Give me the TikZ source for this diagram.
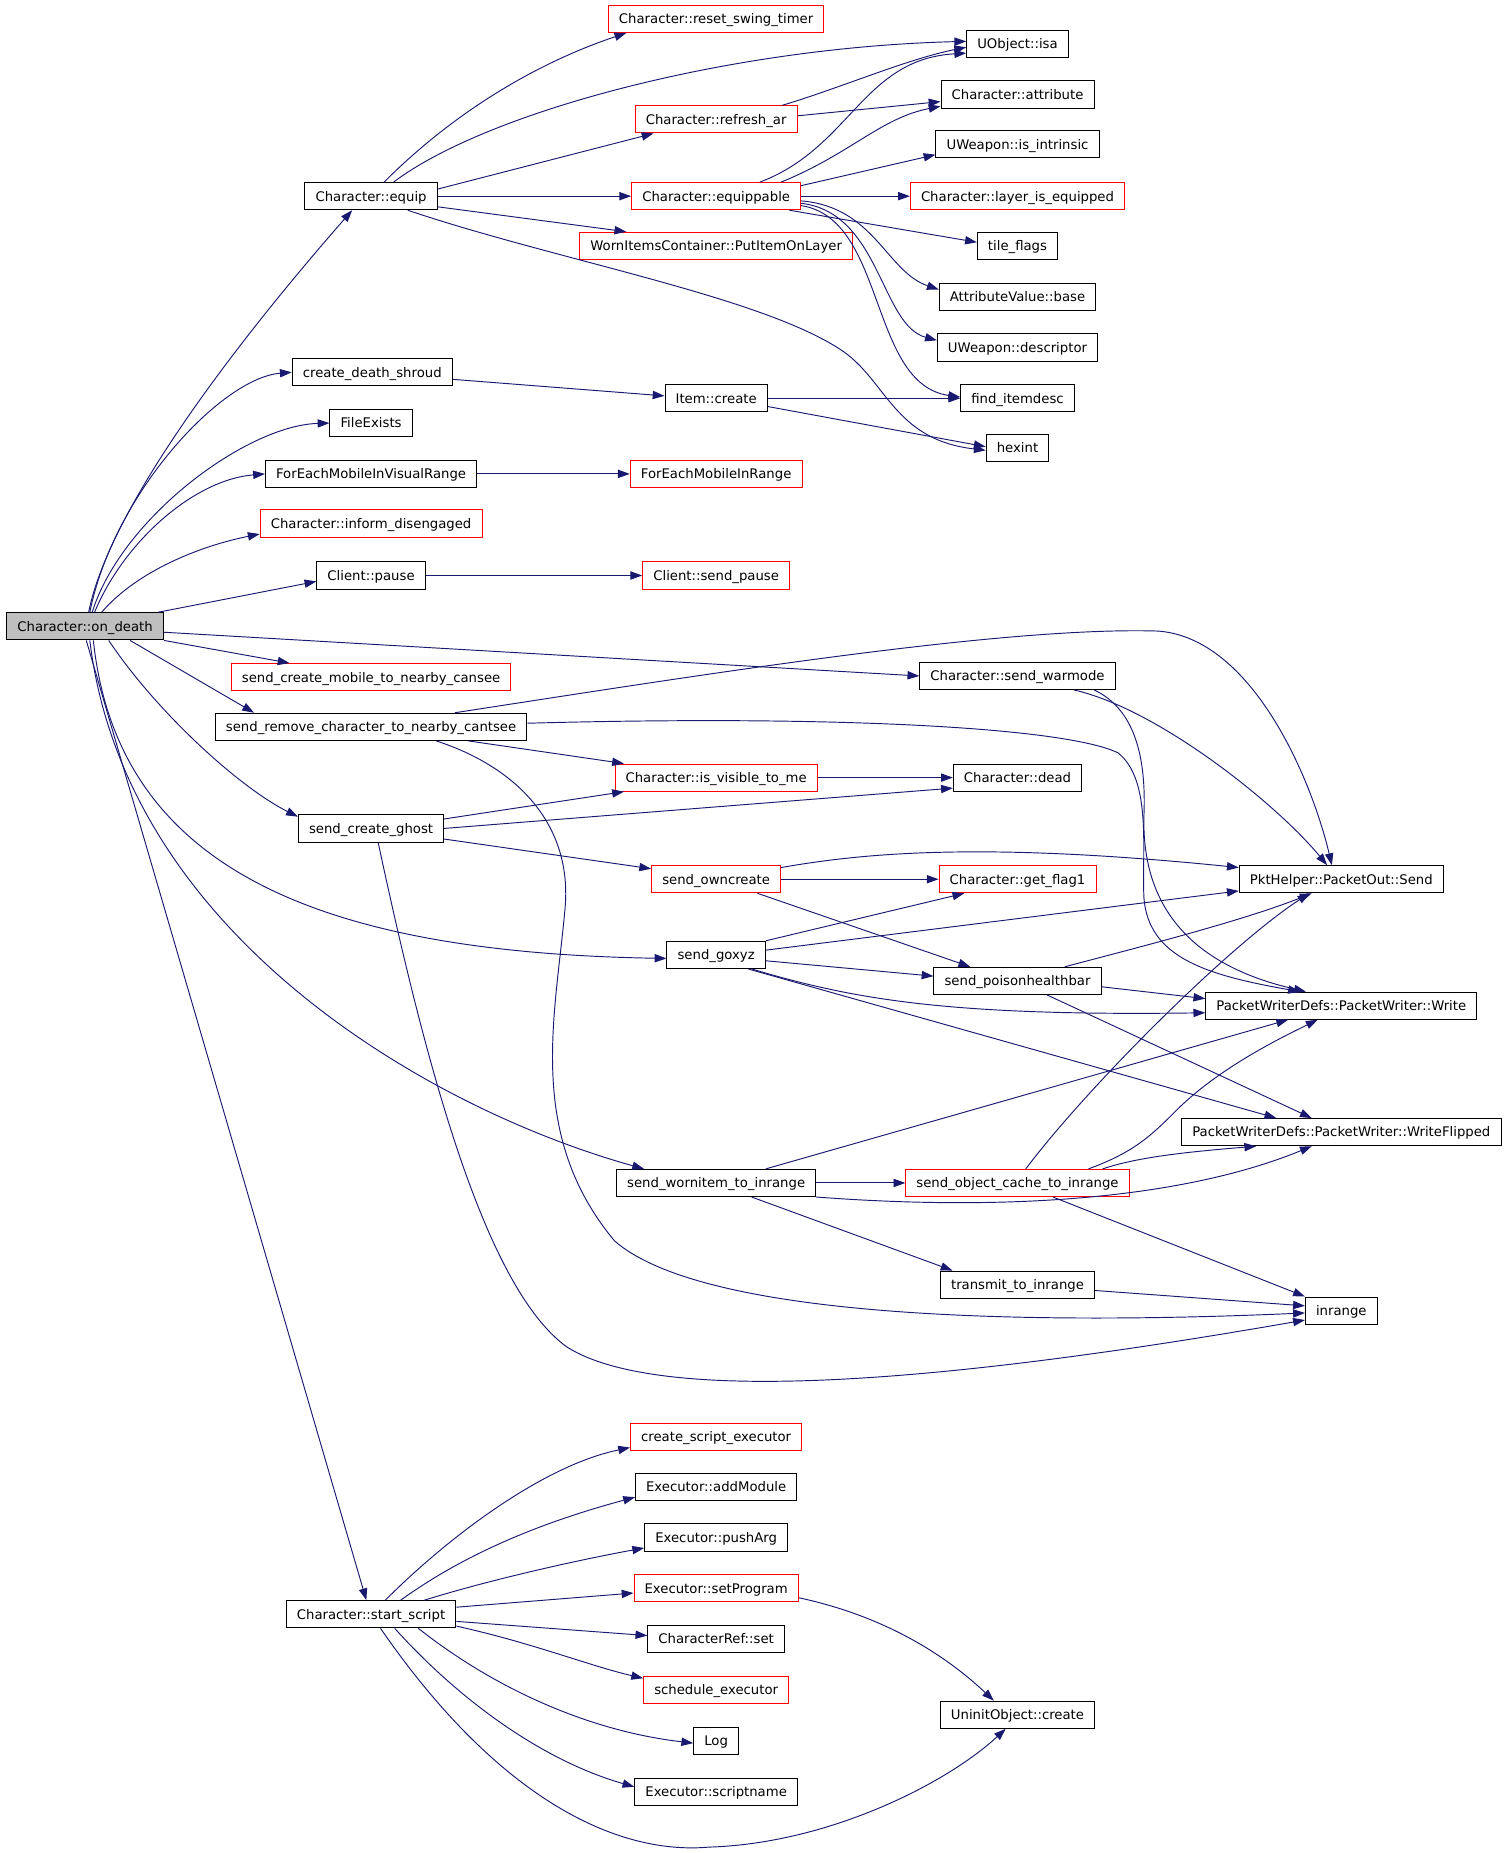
\documentclass[tikz,border=0pt]{standalone}
\usepackage{fontspec}
\newfontfamily\dejavu{DejaVu Sans}
\usetikzlibrary{arrows.meta}
\definecolor{edgeblue}{HTML}{191970}
\definecolor{rootgray}{HTML}{BFBFBF}
\tikzset{
  fn/.style = {draw = black, line width = 0.8pt, minimum height = 23pt,
    inner xsep = 9pt, inner ysep = 0pt, text height = 8.2pt, text depth = 0pt,
    font = \dejavu\fontsize{11.2}{13}\selectfont},
  fnred/.style = {fn, draw = red},
  fnroot/.style = {fn, fill = rootgray},
  call/.style = {edgeblue, line width = 0.8pt,
    -{Triangle[length = 10pt, width = 7pt]}},
}
\begin{document}
\begin{tikzpicture}[x = 1pt, y = -1pt]
  \useasboundingbox (0, 0) rectangle (1279, 1568);
  % first column
  \node [fnroot] (ondeath) at (72, 530) {Character::on\_death};
  % second column
  \node [fn]    (equip)       at (314, 166)  {Character::equip};
  \node [fn]    (shroud)      at (315, 315)  {create\_death\_shroud};
  \node [fn]    (fileexists)  at (314, 358)  {FileExists};
  \node [fn]    (foreachvis)  at (314, 401)  {ForEachMobileInVisualRange};
  \node [fnred] (informdis)   at (314, 443)  {Character::inform\_disengaged};
  \node [fn]    (pause)       at (314, 487)  {Client::pause};
  \node [fnred] (createmob)   at (314, 573)  {send\_create\_mobile\_to\_nearby\_cansee};
  \node [fn]    (removechar)  at (314, 615)  {send\_remove\_character\_to\_nearby\_cantsee};
  \node [fn]    (createghost) at (314, 701)  {send\_create\_ghost};
  \node [fn]    (startscript) at (314, 1366) {Character::start\_script};
  % third column
  \node [fnred] (swingtimer)   at (606, 16)   {Character::reset\_swing\_timer};
  \node [fnred] (refreshar)    at (606, 101)  {Character::refresh\_ar};
  \node [fnred] (equippable)   at (606, 166)  {Character::equippable};
  \node [fnred] (putitem)      at (606, 208)  {WornItemsContainer::PutItemOnLayer};
  \node [fn]    (itemcreate)   at (606, 337)  {Item::create};
  \node [fnred] (foreachrange) at (606, 401)  {ForEachMobileInRange};
  \node [fnred] (sendpause)    at (606, 487)  {Client::send\_pause};
  \node [fnred] (isvisible)    at (606, 658)  {Character::is\_visible\_to\_me};
  \node [fnred] (owncreate)    at (606, 744)  {send\_owncreate};
  \node [fn]    (goxyz)        at (606, 808)  {send\_goxyz};
  \node [fn]    (wornitem)     at (606, 1001) {send\_wornitem\_to\_inrange};
  \node [fnred] (scriptexec)   at (606, 1216) {create\_script\_executor};
  \node [fn]    (addmodule)    at (606, 1258) {Executor::addModule};
  \node [fn]    (pusharg)      at (606, 1301) {Executor::pushArg};
  \node [fnred] (setprogram)   at (606, 1344) {Executor::setProgram};
  \node [fn]    (charrefset)   at (606, 1387) {CharacterRef::set};
  \node [fnred] (schedule)     at (606, 1430) {schedule\_executor};
  \node [fn]    (logfn)        at (606, 1473) {Log};
  \node [fn]    (scriptname)   at (606, 1516) {Executor::scriptname};
  % fourth column
  \node [fn]    (isa)        at (861, 37)   {UObject::isa};
  \node [fn]    (attribute)  at (861, 80)   {Character::attribute};
  \node [fn]    (intrinsic)  at (861, 122)  {UWeapon::is\_intrinsic};
  \node [fnred] (layereq)    at (861, 166)  {Character::layer\_is\_equipped};
  \node [fn]    (tileflags)  at (861, 208)  {tile\_flags};
  \node [fn]    (attrbase)   at (861, 251)  {AttributeValue::base};
  \node [fn]    (descriptor) at (861, 294)  {UWeapon::descriptor};
  \node [fn]    (finditem)   at (861, 337)  {find\_itemdesc};
  \node [fn]    (hexint)     at (861, 379)  {hexint};
  \node [fn]    (warmode)    at (861, 572)  {Character::send\_warmode};
  \node [fn]    (dead)       at (861, 658)  {Character::dead};
  \node [fnred] (getflag)    at (861, 744)  {Character::get\_flag1};
  \node [fn]    (poison)     at (861, 830)  {send\_poisonhealthbar};
  \node [fnred] (objcache)   at (861, 1001) {send\_object\_cache\_to\_inrange};
  \node [fn]    (transmit)   at (861, 1087) {transmit\_to\_inrange};
  \node [fn]    (uninit)     at (861, 1451) {UninitObject::create};
  % fifth column
  \node [fn] (pktsend) at (1135, 744)  {PktHelper::PacketOut::Send};
  \node [fn] (pwwrite) at (1135, 851)  {PacketWriterDefs::PacketWriter::Write};
  \node [fn] (pwflip)  at (1135, 958)  {PacketWriterDefs::PacketWriter::WriteFlipped};
  \node [fn] (inrange) at (1135, 1109) {inrange};

  % calls of Character::on_death
  \draw [call] ([xshift=3pt]ondeath.north) .. controls +(20, -100) and +(-70, 80) .. ([xshift=-16pt]equip.south);
  \draw [call] ([xshift=4pt]ondeath.north) .. controls +(20, -100) and +(-60, 5) .. (shroud.west);
  \draw [call] ([xshift=6pt]ondeath.north) .. controls +(25, -80) and +(-70, 2) .. (fileexists.west);
  \draw [call] ([xshift=8pt]ondeath.north) .. controls +(25, -60) and +(-60, 5) .. (foreachvis.west);
  \draw [call] ([xshift=14pt]ondeath.north) .. controls +(30, -35) and +(-50, 10) .. ([yshift=3pt]informdis.south west);
  \draw [call] ([xshift=-5pt]ondeath.north east) -- ([yshift=-5pt]pause.west);
  \draw [call] (ondeath.south east) -- ([xshift=-69pt]createmob.north);
  \draw [call] ([yshift=-5pt]ondeath.east) -- (warmode.west);
  \draw [call] ([xshift=38pt]ondeath.south) -- ([xshift=-99pt]removechar.north);
  \draw [call] ([xshift=20pt]ondeath.south) .. controls +(40, 60) and +(-50, -25) .. ([yshift=-2pt]createghost.north west);
  \draw [call] ([xshift=7pt]ondeath.south) .. controls +(20, 190) and +(-300, -5) .. ([yshift=-3pt]goxyz.west);
  \draw [call] ([xshift=4pt]ondeath.south) .. controls +(30, 250) and +(-180, -50) .. ([xshift=-61pt]wornitem.north);
  \draw [call] ([xshift=1pt]ondeath.south) -- ([xshift=-4pt]startscript.north);

  % Character::equip and below
  \draw [call] ([xshift=11pt]equip.north) .. controls +(70, -70) and +(-60, 20) .. ([xshift=-76pt]swingtimer.south);
  \draw [call] ([xshift=19pt]equip.north) .. controls +(80, -60) and +(-200, 5) .. ([yshift=2pt]isa.west);
  \draw [call] ([yshift=6pt]equip.east) -- ([xshift=-53pt]refreshar.south);
  \draw [call] (equip.east) -- (equippable.west);
  \draw [call] ([yshift=-9pt]equip.east) -- ([xshift=-76pt]putitem.north);
  \draw [call] ([xshift=31pt]equip.south) .. controls (470, 220) and (640, 250) .. (710, 295)%
    .. controls (750, 320) and (755, 372) .. ([yshift=-2pt]hexint.west);
  \draw [call] ([xshift=56pt]refreshar.north) .. controls +(50, -15) and +(-50, 10) .. ([yshift=-3pt]isa.west);
  \draw [call] ([yshift=3pt]refreshar.east) -- ([yshift=-6pt]attribute.west);
  \draw [call] ([xshift=37pt]equippable.north) .. controls (720, 125) and (730, 50) .. ([yshift=-8pt]isa.west);
  \draw [call] ([xshift=55pt]equippable.north) .. controls (720, 130) and (745, 100) .. ([yshift=2pt]attribute.south west);
  \draw [call] ([yshift=-3pt]equippable.north east) -- ([yshift=3pt]intrinsic.south west);
  \draw [call] (equippable.east) -- (layereq.west);
  \draw [call] ([xshift=-10pt]equippable.south east) -- ([yshift=3pt]tileflags.west);
  \draw [call] ([yshift=-4pt]equippable.east) .. controls (740, 175) and (750, 230) .. ([yshift=6pt]attrbase.west);
  \draw [call] ([yshift=-6pt]equippable.east) .. controls (745, 180) and (745, 275) .. ([yshift=6pt]descriptor.west);
  \draw [call] ([yshift=-8pt]equippable.east) .. controls (750, 185) and (735, 325) .. ([yshift=1pt]finditem.west);
  \draw [call] ([yshift=-6pt]shroud.east) -- ([yshift=2pt]itemcreate.west);
  \draw [call] (itemcreate.east) -- (finditem.west);
  \draw [call] ([yshift=-7pt]itemcreate.east) -- ([yshift=1pt]hexint.west);
  \draw [call] (foreachvis.east) -- (foreachrange.west);
  \draw [call] (pause.east) -- (sendpause.west);

  % packet senders
  \draw [call] ([xshift=71pt]removechar.north) .. controls (600, 570) and (850, 530) .. (980, 534)%
    .. controls (1060, 540) and (1110, 660) .. ([xshift=-8pt]pktsend.north);
  \draw [call] ([yshift=3pt]removechar.east) .. controls (700, 605) and (900, 615) .. (946, 637)%
    .. controls (975, 660) and (966, 720) .. (968, 760)%
    .. controls (972, 810) and (1020, 825) .. ([xshift=-35pt]pwwrite.north);
  \draw [call] ([xshift=82pt]removechar.south) -- ([xshift=-78pt]isvisible.north);
  \draw [call] ([xshift=55pt]removechar.south) .. controls (440, 650) and (485, 700) .. (478, 770)%
    .. controls (470, 860) and (445, 960) .. (520, 1050)%
    .. controls (600, 1120) and (900, 1120) .. ([yshift=-2pt]inrange.west);
  \draw [call] ([xshift=48pt]warmode.south) .. controls (980, 600) and (1080, 680) .. ([xshift=-12pt]pktsend.north);
  \draw [call] ([xshift=65pt]warmode.south) .. controls (960, 600) and (970, 640) .. (968, 690)%
    .. controls (966, 760) and (1000, 815) .. ([xshift=-30pt]pwwrite.north);
  \draw [call] ([yshift=8pt]createghost.east) -- ([xshift=-78pt]isvisible.south);
  \draw [call] (createghost.east) -- ([yshift=3pt]dead.south west);
  \draw [call] ([yshift=-9pt]createghost.east) -- ([yshift=-3pt]owncreate.north west);
  \draw [call] ([xshift=6pt]createghost.south) .. controls (360, 900) and (410, 1090) .. (480, 1140)%
    .. controls (560, 1190) and (800, 1170) .. ([yshift=-8pt]inrange.west);
  \draw [call] (isvisible.east) -- (dead.west);
  \draw [call] ([yshift=-2pt]owncreate.north east) .. controls (730, 722) and (830, 712) .. ([yshift=-2pt]pktsend.north west);
  \draw [call] (owncreate.east) -- (getflag.west);
  \draw [call] ([xshift=35pt]owncreate.south) -- ([xshift=-40pt]poison.north);
  \draw [call] (goxyz.north east) -- ([xshift=-45pt]getflag.south);
  \draw [call] ([yshift=4pt]goxyz.east) -- ([yshift=2pt]pktsend.south west);
  \draw [call] ([yshift=-5pt]goxyz.east) -- ([yshift=4pt]poison.west);
  \draw [call] ([xshift=-12pt]goxyz.south east) .. controls (720, 845) and (800, 860) .. ([yshift=-6pt]pwwrite.west);
  \draw [call] ([xshift=-15pt]goxyz.south east) -- ([xshift=-55pt]pwflip.north);
  \draw [call] ([xshift=40pt]poison.north) .. controls (950, 805) and (1050, 780) .. ([xshift=-25pt]pktsend.south);
  \draw [call] ([yshift=-5pt]poison.east) -- ([yshift=6pt]pwwrite.west);
  \draw [call] ([xshift=25pt]poison.south) -- ([xshift=-25pt]pwflip.north);

  % send_wornitem_to_inrange and below
  \draw [call] ([xshift=42pt]wornitem.north) -- ([xshift=-45pt]pwwrite.south);
  \draw [call] (wornitem.east) -- (objcache.west);
  \draw [call] (wornitem.south east) .. controls (850, 1025) and (1000, 1015) .. ([xshift=-25pt]pwflip.south);
  \draw [call] ([xshift=30pt]wornitem.south) -- ([xshift=-55pt]transmit.north);
  \draw [call] ([xshift=7pt]objcache.north) .. controls (920, 920) and (1040, 800) .. ([xshift=-27pt]pktsend.south);
  \draw [call] ([xshift=60pt]objcache.north) .. controls (960, 975) and (975, 960) .. (995, 940)%
    .. controls (1030, 905) and (1080, 880) .. ([xshift=-20pt]pwwrite.south);
  \draw [call] ([xshift=72pt]objcache.north) .. controls +(30, -10) and +(-60, 5) .. ([xshift=-72pt]pwflip.south);
  \draw [call] ([xshift=30pt]objcache.south) -- (inrange.north west);
  \draw [call] ([yshift=-5pt]transmit.east) -- ([yshift=4pt]inrange.west);

  % Character::start_script
  \draw [call] ([xshift=12pt]startscript.north) .. controls (380, 1300) and (460, 1240) .. ([yshift=3pt]scriptexec.south west);
  \draw [call] ([xshift=25pt]startscript.north) .. controls (400, 1310) and (470, 1285) .. ([yshift=3pt]addmodule.south west);
  \draw [call] ([xshift=45pt]startscript.north) .. controls (420, 1335) and (500, 1318) .. ([yshift=3pt]pusharg.south west);
  \draw [call] ([yshift=6pt]startscript.east) -- ([yshift=-4pt]setprogram.west);
  \draw [call] ([yshift=-6pt]startscript.east) -- ([yshift=3pt]charrefset.west);
  \draw [call] ([yshift=-10pt]startscript.east) .. controls (450, 1390) and (500, 1410) .. ([yshift=-2pt]schedule.north west);
  \draw [call] ([xshift=40pt]startscript.south) .. controls (420, 1430) and (500, 1465) .. ([yshift=-2pt]logfn.west);
  \draw [call] ([xshift=20pt]startscript.south) .. controls (390, 1440) and (460, 1490) .. ([yshift=4pt]scriptname.west);
  \draw [call] ([xshift=8pt]startscript.south) .. controls (420, 1520) and (520, 1570) .. (600, 1563)%
    .. controls (700, 1560) and (800, 1510) .. ([xshift=-10pt]uninit.south);
  \draw [call] ([yshift=-8pt]setprogram.east) .. controls (760, 1370) and (810, 1410) .. ([xshift=-20pt]uninit.north);
\end{tikzpicture}
\end{document}
